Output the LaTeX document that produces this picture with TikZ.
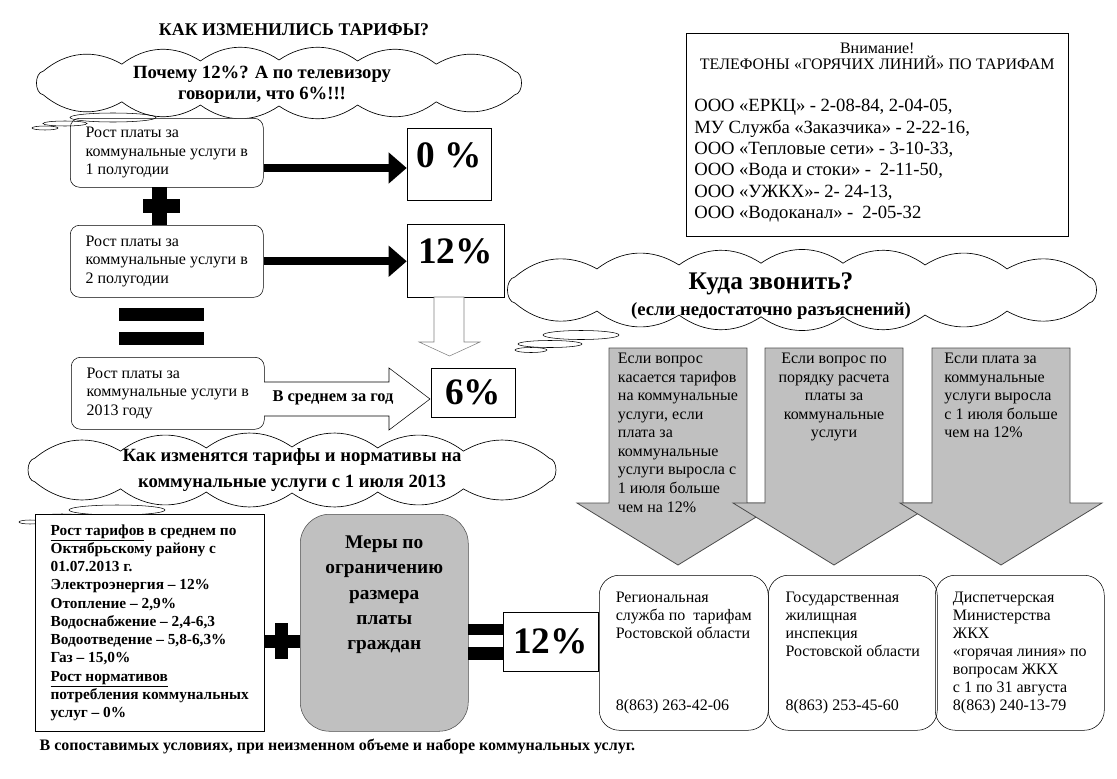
\documentclass[tikz,border=0pt]{standalone}
\usepackage{fontspec}
\setmainfont{Liberation Serif}
\usetikzlibrary{arrows.meta}
\definecolor{silverfill}{HTML}{C0C0C0}

% cloud outline: centre x, centre y, half width, half height, puffs per side
\newcommand\puffcloud[5]{%
  \draw[cloudline] ({#1+#3*(1-1/#5)}, {#2-#4*sqrt(1-(1-1/#5)^2)})
    \foreach \k in {2,...,#5} { to[bend right=35] ({#1+#3*(1-(2*\k-1)/#5)}, {#2-#4*sqrt(1-(1-(2*\k-1)/#5)^2)}) }
    to[bend right=80] ({#1-#3*(1-1/#5)}, {#2+#4*sqrt(1-(1-1/#5)^2)})
    \foreach \k in {2,...,#5} { to[bend right=35] ({#1+#3*(-1+(2*\k-1)/#5)}, {#2+#4*sqrt(1-(-1+(2*\k-1)/#5)^2)}) }
    to[bend right=80] ({#1+#3*(1-1/#5)}, {#2-#4*sqrt(1-(1-1/#5)^2)}) -- cycle;}

\tikzset{
  cloudline/.style={draw, fill=white, line width=0.5pt},
  roundbox/.style={draw, fill=white, rounded corners=7pt, align=left, anchor=north west,
    font=\fontsize{12}{13.9}\selectfont, minimum width=144.75pt},
  percentbox/.style={draw, inner sep=0pt, font=\fontsize{28}{30}\selectfont\bfseries},
  thickarrow/.style={line width=6pt, -{Triangle[length=13.5pt,width=22.5pt]}},
  cloudtext/.style={align=center, inner sep=0pt, font=\fontsize{14}{16}\selectfont\bfseries},
  signbar/.style={fill=black},
  greyarrow/.style={fill=silverfill, draw=black!70, line width=0.6pt},
  arrowtext/.style={anchor=north, inner sep=0pt, font=\fontsize{12}{13.9}\selectfont},
  servicebox/.style={draw, rounded corners=15pt, anchor=north west, align=left,
    minimum width=126.75pt, minimum height=116.25pt, font=\fontsize{12}{13.5}\selectfont},
}

\begin{document}
\begin{tikzpicture}[x=0.75pt, y=-0.75pt]
\useasboundingbox (0,0) rectangle (1117,778);

% title and first cloud
\node[font=\fontsize{13.4}{15}\selectfont\bfseries] (title) at (294,30) {КАК ИЗМЕНИЛИСЬ ТАРИФЫ?};
\puffcloud{279}{83}{275}{23}{7}
\node[cloudtext] (whycloud) at (262,85) {Почему 12\%? А по телевизору\\говорили, что 6\%!!!};

% half-year boxes
\node[roundbox, minimum height=51.75pt] (half1) at (70,118) {Рост платы за\\коммунальные услуги в\\1 полугодии};
\node[roundbox, minimum height=54pt] (half2) at (70,225) {Рост платы за\\коммунальные услуги в\\2 полугодии};
\node[roundbox, minimum height=54pt] (year) at (71,357) {Рост платы за\\коммунальные услуги в\\2013 году};
\draw (113,117.5) ellipse [x radius=43, y radius=4.5];
\draw (65,123.5) ellipse [x radius=22, y radius=2.5];
\draw (45,128) ellipse [x radius=13, y radius=2];

\node[percentbox, minimum width=63pt, minimum height=54pt] (zero) at (449,164) {0 \%\rule[-14pt]{0pt}{0pt}};
\node[percentbox, minimum width=72.75pt, minimum height=54.75pt] (twelve) at (455.5,260.5) {12\%\rule[-14pt]{0pt}{0pt}};
\node[percentbox, minimum width=63pt, minimum height=36.75pt] (six) at (473,392.5) {6\%};

\draw[thickarrow] ([yshift=-3pt]zero.west -| half1.east) -- ([yshift=-3pt]zero.west);
\draw[thickarrow] (half2.east) -- (half2.east -| twelve.west);

% plus and equals
\fill[signbar] (152,187) rectangle (167,225);
\fill[signbar] (143,199) rectangle (180,213);
\fill[signbar] (119,308) rectangle (204,321);
\fill[signbar] (119,332) rectangle (204,345);

% hollow arrows
\draw[draw=black!50, fill=white] (434,297) -- (464,297) -- (464,342) -- (480,342)
  -- (449.5,356) -- (419,342) -- (434,342) -- cycle;
\draw[fill=white] (264,382) -- (389,382) -- (389,368) -- (430,399) -- (389,430)
  -- (389,416) -- (264,416);
\node[font=\fontsize{12.3}{14}\selectfont\bfseries] (avgyear) at (333,398) {В среднем за год};

% hot lines
\node[draw, anchor=north west, text width=274.5pt, inner xsep=6pt, inner ysep=0pt,
  minimum height=152.25pt] (hotlines) at (686,33)
  {\parindent=0pt{\fontsize{12}{12}\selectfont\centering Внимание!\\ТЕЛЕФОНЫ «ГОРЯЧИХ ЛИНИЙ» ПО ТАРИФАМ\par}
   \vspace{15.5pt}
   {\fontsize{14}{16}\selectfont\raggedright ООО «ЕРКЦ» - 2-08-84, 2-04-05,\\
   МУ Служба «Заказчика» - 2-22-16,\\
   ООО «Тепловые сети» - 3-10-33,\\
   ООО «Вода и стоки» -\ \ 2-11-50,\\
   ООО «УЖКХ»- 2- 24-13,\\
   ООО «Водоканал» -\ \ 2-05-32\par}
   \vspace{3pt}\hrule height 0pt};

% where to call
\puffcloud{802}{290}{328}{27}{8}
\node[cloudtext] (callcloud) at (771,296)
  {{\fontsize{19}{21}\selectfont Куда звонить?}\\[3pt]{\fontsize{14}{16}\selectfont(если недостаточно разъяснений)}};
\draw (581,335) ellipse [x radius=38, y radius=4.5];
\draw (550,344) ellipse [x radius=32, y radius=3.5];
\draw (531,350) ellipse [x radius=16, y radius=2.5];

\foreach \cx in {678,834,1001}
  \draw[greyarrow] (\cx-69,348) -- (\cx+69,348) -- (\cx+69,503) -- (\cx+101,503)
    -- (\cx,565) -- (\cx-101,503) -- (\cx-69,503) -- cycle;
\node[arrowtext, align=left] (tariffq) at (678,353) {Если вопрос\\касается тарифов\\на коммунальные\\услуги, если\\плата за\\коммунальные\\услуги выросла с\\1 июля больше\\чем на 12\%};
\node[arrowtext, align=center] (orderq) at (834,353) {Если вопрос по\\порядку расчета\\платы за\\коммунальные\\услуги};
\node[arrowtext, align=left] (riseq) at (1001,353) {Если плата за\\коммунальные\\услуги выросла\\с 1 июля больше\\чем на 12\%};

\node[servicebox] (regional) at (599,575) {Региональная\\служба по\ \ тарифам\\Ростовской области\\[40.5pt]8(863) 263-42-06};
\node[servicebox] (inspect) at (768,575) {Государственная\\жилищная\\инспекция\\Ростовской области\\[27pt]8(863) 253-45-60};
\node[servicebox] (ministry) at (935,575) {Диспетчерская\\Министерства\\ЖКХ\\«горячая линия» по\\вопросам ЖКХ\\с 1 по 31 августа\\8(863) 240-13-79};

% from 1 July
\puffcloud{292}{470}{300}{23}{7}
\node[cloudtext, font=\fontsize{14}{19}\selectfont\bfseries] (howcloud) at (292,470)
  {Как изменятся тарифы и нормативы на\\коммунальные услуги с 1 июля 2013};
\draw (117,510) ellipse [x radius=48, y radius=5];
\draw (62,517) ellipse [x radius=24, y radius=3];
\draw (30,522) ellipse [x radius=11, y radius=2];

\node[draw, fill=white, anchor=north west, align=left, minimum width=171.75pt, minimum height=162.75pt,
  font=\fontsize{11.5}{13.7}\selectfont\bfseries] (rates) at (35,514)
  {\underline{Рост тарифов} в среднем по\\Октябрьскому району с\\01.07.2013 г.\\Электроэнергия – 12\%\\Отопление – 2,9\%\\Водоснабжение – 2,4-6,3\\Водоотведение – 5,8-6,3\%\\Газ – 15,0\%\\\underline{Рост нормативов}\\потребления коммунальных\\услуг – 0\%};
\node[draw=black!70, fill=silverfill, rounded corners=22pt, anchor=north west, align=center,
  minimum width=126pt, minimum height=162.75pt, font=\fontsize{14.5}{19}\selectfont\bfseries] (limits) at (300,514)
  {Меры по\\ограничению\\размера\\платы\\граждан\\[26pt]\mbox{}};
\fill[signbar] (275,623) rectangle (288,659);
\fill[signbar] (264,635) rectangle (300,648);
\fill[signbar] (468,624) rectangle (503,635);
\fill[signbar] (468,647) rectangle (503,660);
\node[percentbox, minimum width=71.25pt, minimum height=44.25pt] (total) at (550.5,641.5) {12\%};

\node[anchor=west, font=\fontsize{12}{13}\selectfont\bfseries] (footnote) at (35,746)
  {В сопоставимых условиях, при неизменном объеме и наборе коммунальных услуг.};
\end{tikzpicture}
\end{document}
